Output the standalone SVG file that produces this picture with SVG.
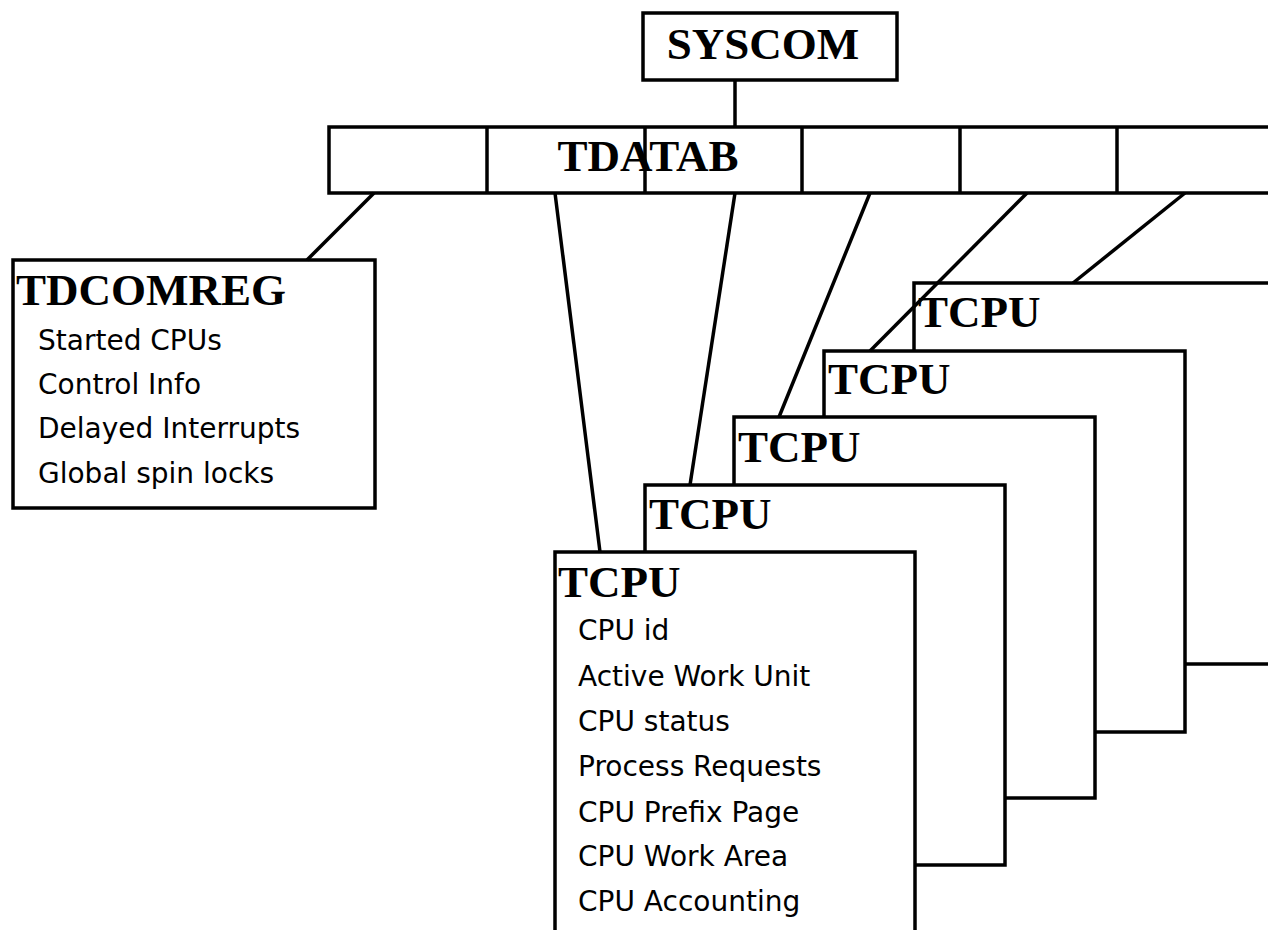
<svg xmlns="http://www.w3.org/2000/svg" width="1268" height="930" viewBox="0 0 1268 930">
<style>
.box{fill:#fff;stroke:#000;stroke-width:3.5}
.div{stroke:#000;stroke-width:3.5}
.title{font-family:"Liberation Serif","Times New Roman",serif;font-weight:bold;font-size:45px;fill:#000}
.item{font-family:"DejaVu Sans","Liberation Sans",sans-serif;font-size:28px;fill:#000}
#connectors line{stroke:#000;stroke-width:3.5}
</style>
<rect width="1268" height="930" fill="#fff"/>
<g id="syscom">
<rect class="box" x="643" y="13" width="254" height="67"/>
<text class="title" x="763" y="59" text-anchor="middle">SYSCOM</text>
</g>
<g id="tdatab">
<rect class="box" x="329" y="127" width="960" height="66"/>
<text class="title" x="648" y="171" text-anchor="middle">TDATAB</text>
<line class="div" x1="487" y1="127" x2="487" y2="193"/>
<line class="div" x1="645" y1="127" x2="645" y2="193"/>
<line class="div" x1="802" y1="127" x2="802" y2="193"/>
<line class="div" x1="960" y1="127" x2="960" y2="193"/>
<line class="div" x1="1117" y1="127" x2="1117" y2="193"/>
</g>
<g id="tdcomreg">
<rect class="box" x="13" y="260" width="362" height="248"/>
<text class="title" x="16" y="305">TDCOMREG</text>
<text class="item" x="38" y="350">Started CPUs</text>
<text class="item" x="38" y="394">Control Info</text>
<text class="item" x="38" y="438">Delayed Interrupts</text>
<text class="item" x="38" y="483">Global spin locks</text>
</g>
<g id="tcpu5">
<rect class="box" x="914" y="283" width="360" height="381"/>
<text class="title" x="918" y="327">TCPU</text>
</g>
<g id="tcpu4">
<rect class="box" x="824" y="351" width="361" height="381"/>
<text class="title" x="828" y="394">TCPU</text>
</g>
<g id="tcpu3">
<rect class="box" x="734" y="417" width="361" height="381"/>
<text class="title" x="738" y="462">TCPU</text>
</g>
<g id="tcpu2">
<rect class="box" x="645" y="485" width="360" height="380"/>
<text class="title" x="649" y="529">TCPU</text>
</g>
<g id="tcpu1">
<rect class="box" x="555" y="552" width="360" height="381"/>
<text class="title" x="558" y="597">TCPU</text>
<text class="item" x="578" y="640">CPU id</text>
<text class="item" x="578" y="686">Active Work Unit</text>
<text class="item" x="578" y="731">CPU status</text>
<text class="item" x="578" y="776">Process Requests</text>
<text class="item" x="578" y="822">CPU Prefix Page</text>
<text class="item" x="578" y="866">CPU Work Area</text>
<text class="item" x="578" y="911">CPU Accounting</text>
</g>
<g id="connectors">
<line x1="735" y1="80" x2="735" y2="127"/>
<line x1="374" y1="193" x2="307" y2="260"/>
<line x1="555" y1="193" x2="600" y2="552"/>
<line x1="735" y1="193" x2="690" y2="485"/>
<line x1="870" y1="193" x2="779" y2="417"/>
<line x1="1027" y1="193" x2="870" y2="351"/>
<line x1="1185" y1="193" x2="1073" y2="283"/>
</g>
</svg>
